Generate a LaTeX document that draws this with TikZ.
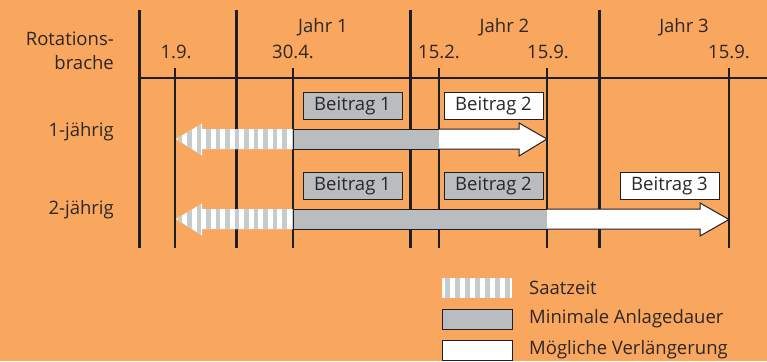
\documentclass[tikz,border=0pt]{standalone}
\usepackage{fontspec}
\setmainfont{Open Sans}
\usetikzlibrary{calc}

\definecolor{bgorange}{RGB}{249,166,94}
\definecolor{bargray}{RGB}{186,189,191}
\definecolor{stripegray}{RGB}{198,203,203}
\definecolor{linedark}{RGB}{30,30,40}
\definecolor{textdark}{RGB}{45,40,38}

\tikzset{
  gridthin/.style={draw=linedark,line width=2pt},
  gridthick/.style={draw=linedark,line width=3pt},
  txt/.style={font=\fontsize{18.5}{24}\selectfont,text=textdark,inner sep=0pt},
  beitrag/.style={txt,draw=linedark,line width=1pt,minimum width=99pt,minimum height=27pt},
  barline/.style={draw=linedark,line width=1pt}
}

% Saatzeit-Pfeil: #1 = Zeile (y-Mitte)
\newcommand{\saatpfeil}[1]{%
  \begin{scope}
    \clip (176,#1) -- (202,#1-15.5) -- (202,#1-10) -- (293,#1-10)
      -- (293,#1+10) -- (202,#1+10) -- (202,#1+16.5) -- cycle;
    \fill[white] (170,#1-20) rectangle (295,#1+20);
    \foreach \x in {177.5,187,...,293}
      \fill[stripegray] (\x,#1-20) rectangle +(4.75,40);
  \end{scope}}

\begin{document}
\begin{tikzpicture}[x=1pt,y=-1pt]

\fill[bgorange] (0,0) rectangle (767,361);
\useasboundingbox (0,0) rectangle (767,361);

%Zeitachse
\draw[gridthin] (139,78) -- (767,78);

\draw[gridthick] (139,10) -- (139,248);
\draw[gridthick] (236,10) -- (236,248);
\draw[gridthick] (410,10) -- (410,248);
\draw[gridthick] (599,10) -- (599,248);

\draw[gridthin] (175,68) -- (175,248);
\draw[gridthin] (293,68) -- (293,248);
\draw[gridthin] (439,68) -- (439,248);
\draw[gridthin] (547,68) -- (547,248);
\draw[gridthin] (729,68) -- (729,248);

\node[txt,anchor=east,align=right] (rb) at (114,50.5) {Rotations-\\brache};

\node[txt] (j1) at (323,27) {Jahr 1};
\node[txt] (j2) at (504.5,27) {Jahr 2};
\node[txt] (j3) at (684,27) {Jahr 3};

\node[txt] (d1) at (176,52) {1.9.};
\node[txt] (d2) at (293,52) {30.4.};
\node[txt] (d3) at (439,52) {15.2.};
\node[txt] (d4) at (548,52) {15.9.};
\node[txt] (d5) at (729,52) {15.9.};

%1-jaehrig
\node[txt,anchor=east] (r1) at (114,132) {1-jährig};
\saatpfeil{139}
\draw[barline,fill=bargray] (293,129) rectangle (439,149);
\draw[barline,fill=white] (439,129) -- (519,129) -- (519,123) -- (547,139)
  -- (519,156) -- (519,149) -- (439,149);
\node[beitrag,fill=bargray] (b11) at (352.5,105.5) {Beitrag 1};
\node[beitrag,fill=white] (b12) at (493.5,105.5) {Beitrag 2};

%2-jaehrig
\node[txt,anchor=east] (r2) at (114,210) {2-jährig};
\saatpfeil{219}
\draw[barline,fill=bargray] (293,209) rectangle (547,229);
\draw[barline,fill=white] (547,209) -- (700,209) -- (700,203) -- (729,219.5)
  -- (700,236) -- (700,229) -- (547,229);
\node[beitrag,fill=bargray] (b21) at (352.5,185.5) {Beitrag 1};
\node[beitrag,fill=bargray] (b22) at (493.5,185.5) {Beitrag 2};
\node[beitrag,fill=white] (b23) at (669.5,185.5) {Beitrag 3};

%Legende
\begin{scope}
  \clip (442,278) rectangle (512,298);
  \fill[white] (442,278) rectangle (512,298);
  \foreach \x in {444.5,454.5,...,512}
    \fill[stripegray] (\x,278) rectangle +(5,20);
\end{scope}
\draw[barline,fill=bargray] (442,309) rectangle (512,329);
\draw[barline,fill=white] (442,340) rectangle (512,360);

\node[txt,anchor=west] (l1) at (529,288) {Saatzeit};
\node[txt,anchor=west] (l2) at (529,319) {Minimale Anlagedauer};
\node[txt,anchor=west] (l3) at (529,350) {Mögliche Verlängerung};

\end{tikzpicture}
\end{document}
